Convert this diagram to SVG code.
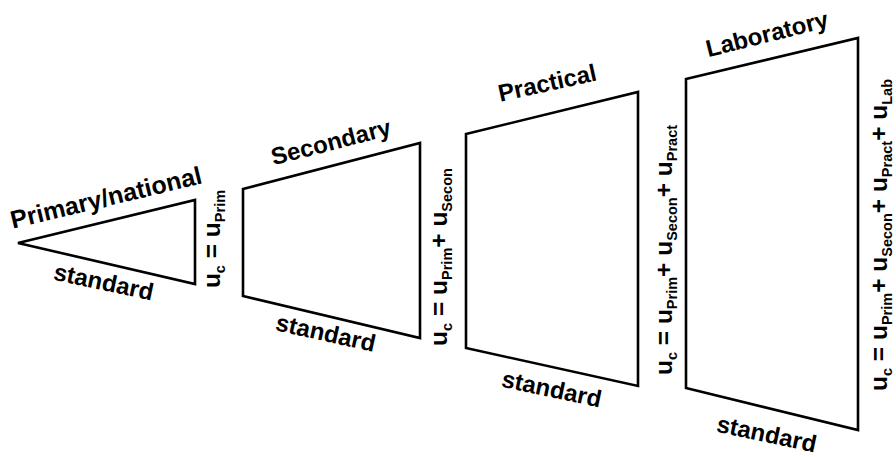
<svg xmlns="http://www.w3.org/2000/svg" width="896" height="457" viewBox="0 0 896 457">
<style>
.shape{fill:#fff;stroke:#000;stroke-width:2.6;stroke-linejoin:miter}
.t{font-family:"Liberation Sans",Arial,sans-serif;font-weight:bold;font-size:24px;fill:#000;text-anchor:middle}
.f{font-family:"Liberation Sans",Arial,sans-serif;font-weight:bold;font-size:24.5px;fill:#000;text-anchor:middle}
.s{font-size:14.5px}
</style>
<rect width="896" height="457" fill="#fff"/>
<g id="primary">
<polygon class="shape" points="18,243 195,200 195,284"/>
<text class="t" transform="translate(108,206) rotate(-13.5)" style="font-size:25px">Primary/national</text>
<text class="t" transform="translate(102,290) rotate(12)">standard</text>
</g>
<g id="secondary">
<polygon class="shape" points="243,189 420,143 420,338 243,296"/>
<text class="t" transform="translate(333,150) rotate(-14.5)">Secondary</text>
<text class="t" transform="translate(324,341) rotate(12.5)">standard</text>
</g>
<g id="practical">
<polygon class="shape" points="466,134 638,92 638,386 466,348"/>
<text class="t" transform="translate(549,91) rotate(-12.5)">Practical</text>
<text class="t" transform="translate(550,397) rotate(12)">standard</text>
</g>
<g id="laboratory">
<polygon class="shape" points="686,79 858,38 858,430 686,388"/>
<text class="t" transform="translate(769,42) rotate(-14)">Laboratory</text>
<text class="t" transform="translate(765,442) rotate(12)">standard</text>
</g>
<g id="formulas">
<text class="f" transform="translate(220,239) rotate(-90)">u<tspan class="s" dy="5">c</tspan><tspan dy="-5"> = u</tspan><tspan class="s" dy="5">Prim</tspan></text>
<text class="f" transform="translate(447,257) rotate(-90)">u<tspan class="s" dy="5">c</tspan><tspan dy="-5"> = u</tspan><tspan class="s" dy="5">Prim</tspan><tspan dy="-5">+ u</tspan><tspan class="s" dy="5">Secon</tspan></text>
<text class="f" transform="translate(672,250) rotate(-90)">u<tspan class="s" dy="5">c</tspan><tspan dy="-5"> = u</tspan><tspan class="s" dy="5">Prim</tspan><tspan dy="-5">+ u</tspan><tspan class="s" dy="5">Secon</tspan><tspan dy="-5">+ u</tspan><tspan class="s" dy="5">Pract</tspan></text>
<text class="f" transform="translate(887,235) rotate(-90)">u<tspan class="s" dy="5">c</tspan><tspan dy="-5"> = u</tspan><tspan class="s" dy="5">Prim</tspan><tspan dy="-5">+ u</tspan><tspan class="s" dy="5">Secon</tspan><tspan dy="-5">+ u</tspan><tspan class="s" dy="5">Pract</tspan><tspan dy="-5">+ u</tspan><tspan class="s" dy="5">Lab</tspan></text>
</g>
</svg>
